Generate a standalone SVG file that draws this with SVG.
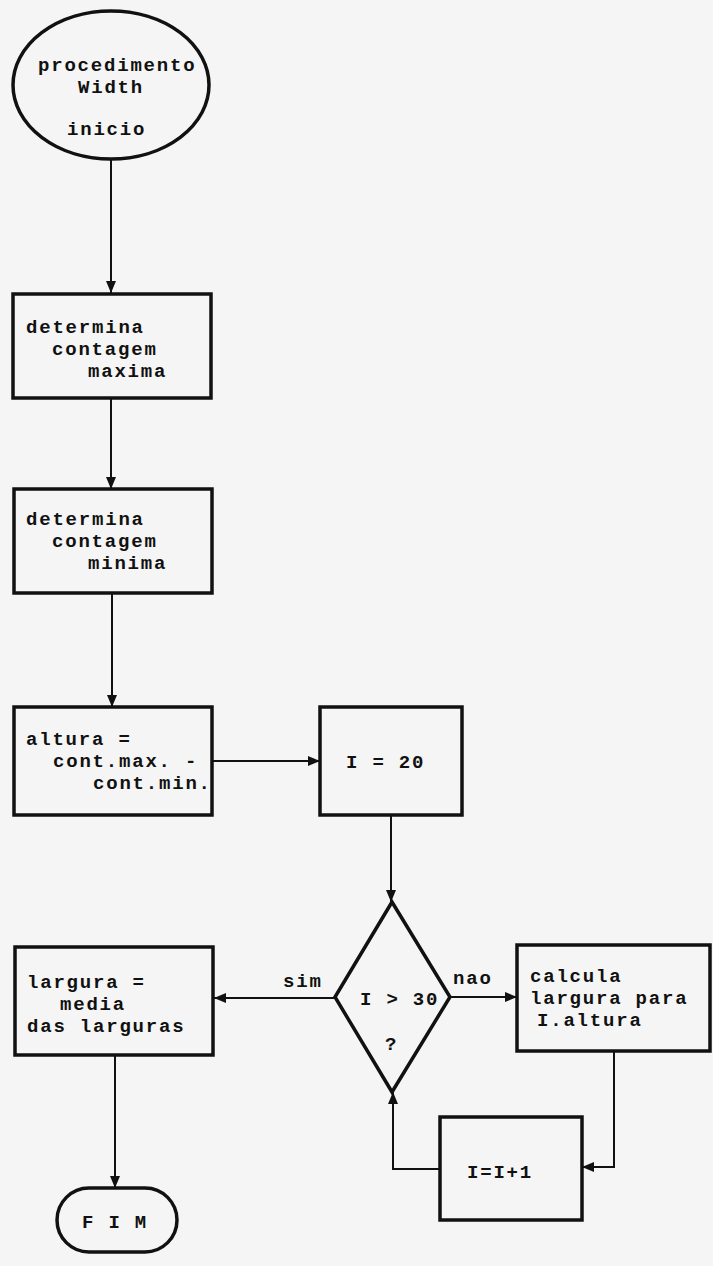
<svg xmlns="http://www.w3.org/2000/svg" width="713" height="1266" viewBox="0 0 713 1266">
<style>
.shape{fill:none;stroke:#111;stroke-width:3.5}
.conn{fill:none;stroke:#111;stroke-width:2}
text{font-family:"Liberation Mono","DejaVu Sans Mono",monospace;font-weight:bold;font-size:19px;letter-spacing:1.8px;fill:#111}
</style>
<defs>
<marker id="arr" viewBox="0 0 12 10" refX="12" refY="5" markerWidth="13" markerHeight="10" markerUnits="userSpaceOnUse" orient="auto">
<path d="M0,0 L12,5 L0,10 Z" fill="#111"/>
</marker>
</defs>
<rect width="713" height="1266" fill="#f5f5f5"/>
<g id="connectors">
<path class="conn" d="M111,160 V293" marker-end="url(#arr)"/>
<path class="conn" d="M111,398 V489" marker-end="url(#arr)"/>
<path class="conn" d="M112,593 V707" marker-end="url(#arr)"/>
<path class="conn" d="M212,761 H320" marker-end="url(#arr)"/>
<path class="conn" d="M391,815 V902" marker-end="url(#arr)"/>
<path class="conn" d="M335,998 H214" marker-end="url(#arr)"/>
<path class="conn" d="M450,997 H517" marker-end="url(#arr)"/>
<path class="conn" d="M614,1051 V1167 H582" marker-end="url(#arr)"/>
<path class="conn" d="M440,1169 H393 V1092" marker-end="url(#arr)"/>
<path class="conn" d="M115,1055 V1188" marker-end="url(#arr)"/>
<text x="283" y="987">sim</text>
<text x="453" y="984">nao</text>
</g>
<g id="start">
<ellipse class="shape" cx="111" cy="85" rx="98" ry="74"/>
<text x="38" y="71">procedimento</text>
<text x="78" y="93">Width</text>
<text x="67" y="135">inicio</text>
</g>
<g id="max">
<rect class="shape" x="13" y="294" width="198" height="104"/>
<text x="26" y="333">determina</text>
<text x="52" y="355">contagem</text>
<text x="88" y="377">maxima</text>
</g>
<g id="min">
<rect class="shape" x="14" y="489" width="198" height="104"/>
<text x="26" y="525">determina</text>
<text x="52" y="547">contagem</text>
<text x="88" y="569">minima</text>
</g>
<g id="altura">
<rect class="shape" x="14" y="707" width="198" height="108"/>
<text x="26" y="745">altura =</text>
<text x="53" y="767">cont.max. -</text>
<text x="93" y="789">cont.min.</text>
</g>
<g id="i20">
<rect class="shape" x="320" y="707" width="142" height="108"/>
<text x="346" y="768">I = 20</text>
</g>
<g id="decision">
<path class="shape" d="M392,902 L450,997 L392,1092 L335,997 Z"/>
<text x="360" y="1005">I &gt; 30</text>
<text x="385" y="1050">?</text>
</g>
<g id="largura">
<rect class="shape" x="15" y="947" width="198" height="108"/>
<text x="27" y="988">largura =</text>
<text x="60" y="1010">media</text>
<text x="27" y="1032">das larguras</text>
</g>
<g id="calcula">
<rect class="shape" x="517" y="945" width="193" height="106"/>
<text x="530" y="982">calcula</text>
<text x="530" y="1004">largura para</text>
<text x="537" y="1026">I.altura</text>
</g>
<g id="incr">
<rect class="shape" x="440" y="1117" width="142" height="103"/>
<text x="467" y="1178">I=I+1</text>
</g>
<g id="fim">
<rect class="shape" x="57" y="1188" width="120" height="64" rx="32" ry="32"/>
<text x="82" y="1228">F I M</text>
</g>
</svg>
